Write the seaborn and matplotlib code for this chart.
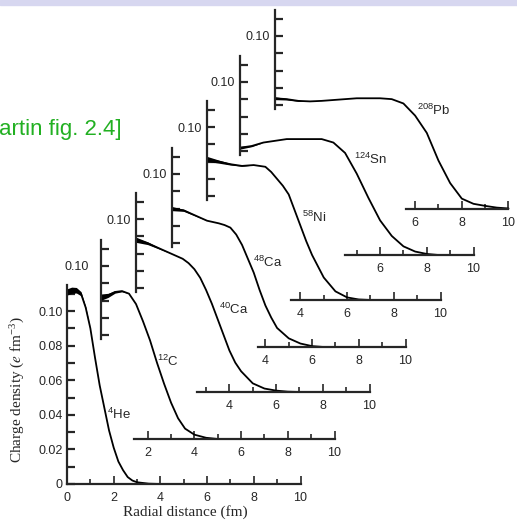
import numpy as np
import matplotlib
matplotlib.use('Agg')
import matplotlib.pyplot as plt
import seaborn as sns
from matplotlib.patches import Rectangle

sns.set_style('ticks')
plt.rcParams['font.family'] = ['Liberation Sans', 'DejaVu Sans']
plt.rcParams['mathtext.fontset'] = 'stix'
plt.rcParams['mathtext.default'] = 'regular'

# charge densities (e fm^-3)
labels = [r'$^{4}$He', r'$^{12}$C', r'$^{40}$Ca', r'$^{48}$Ca', r'$^{58}$Ni', r'$^{124}$Sn', r'$^{208}$Pb']

r_he = [0, 0.2, 0.4, 0.6, 0.8, 1.0, 1.2, 1.4, 1.6, 1.8, 2.0, 2.2, 2.4, 2.6, 2.8, 3.0, 3.5, 4.0]
rho_he = [0.111, 0.112, 0.112, 0.110, 0.102, 0.090, 0.073, 0.057, 0.044, 0.031, 0.021, 0.013, 0.008, 0.004, 0.002, 0.001, 0.0002, 0.0]
err_he = [0.0018, 0.0018, 0.0016, 0.0012, 0.0005, 0, 0, 0, 0, 0, 0, 0, 0, 0, 0, 0, 0, 0]

r_c = [0, 0.3, 0.6, 0.9, 1.2, 1.5, 1.8, 2.1, 2.4, 2.7, 3.0, 3.3, 3.6, 4.0, 4.5, 5.0]
rho_c = [0.082, 0.083, 0.085, 0.0855, 0.084, 0.078, 0.068, 0.057, 0.044, 0.032, 0.021, 0.012, 0.006, 0.0025, 0.0007, 0.0]
err_c = [0.0018, 0.0012, 0.0007, 0.0004, 0, 0, 0, 0, 0, 0, 0, 0, 0, 0, 0, 0]

r_ca40 = [0, 0.5, 1.0, 1.5, 2.0, 2.25, 2.5, 2.75, 3.0, 3.25, 3.5, 3.75, 4.0, 4.25, 4.5, 5.0, 5.5, 6.0, 6.5, 7.0]
rho_ca40 = [0.088, 0.086, 0.083, 0.080, 0.077, 0.0745, 0.071, 0.066, 0.059, 0.051, 0.042, 0.033, 0.024, 0.017, 0.012, 0.005, 0.002, 0.0008, 0.0002, 0.0]
err_ca40 = [0.0015, 0.0008, 0.0004, 0, 0, 0, 0, 0, 0, 0, 0, 0, 0, 0, 0, 0, 0, 0, 0, 0]

r_ca48 = [0, 0.5, 1.0, 1.5, 2.0, 2.25, 2.5, 2.75, 3.0, 3.25, 3.5, 3.75, 4.0, 4.25, 4.5, 5.0, 5.5, 6.0, 6.5]
rho_ca48 = [0.080, 0.079, 0.076, 0.073, 0.0715, 0.0705, 0.069, 0.065, 0.059, 0.051, 0.043, 0.033, 0.024, 0.017, 0.011, 0.005, 0.002, 0.0005, 0.0]
err_ca48 = [0.0012, 0.0006, 0.0003, 0, 0, 0, 0, 0, 0, 0, 0, 0, 0, 0, 0, 0, 0, 0, 0]

r_ni = [0, 0.5, 1.0, 1.5, 2.0, 2.5, 2.75, 3.0, 3.25, 3.5, 3.75, 4.0, 4.25, 4.5, 5.0, 5.5, 6.0, 6.5, 7.0]
rho_ni = [0.0815, 0.080, 0.0785, 0.0775, 0.078, 0.077, 0.074, 0.070, 0.066, 0.061, 0.052, 0.043, 0.034, 0.026, 0.013, 0.005, 0.0015, 0.0003, 0.0]
err_ni = [0.0015, 0.0009, 0.0005, 0.0002, 0, 0, 0, 0, 0, 0, 0, 0, 0, 0, 0, 0, 0, 0, 0]

r_sn = [0, 0.5, 1.0, 1.5, 2.0, 2.5, 3.0, 3.5, 4.0, 4.5, 5.0, 5.5, 6.0, 6.5, 7.0, 7.5, 8.0, 8.5]
rho_sn = [0.062, 0.063, 0.065, 0.066, 0.067, 0.067, 0.067, 0.067, 0.065, 0.059, 0.047, 0.033, 0.020, 0.011, 0.005, 0.002, 0.0006, 0.0]
err_sn = [0.0008, 0.0004, 0, 0, 0, 0, 0, 0, 0, 0, 0, 0, 0, 0, 0, 0, 0, 0]

r_pb = [0, 0.5, 1.0, 1.5, 2.0, 2.5, 3.0, 3.5, 4.0, 4.5, 5.0, 5.5, 6.0, 6.5, 7.0, 7.5, 8.0, 8.5, 9.0, 9.5, 10.0]
rho_pb = [0.064, 0.0635, 0.0625, 0.0622, 0.0625, 0.063, 0.0635, 0.064, 0.064, 0.064, 0.0635, 0.061, 0.054, 0.044, 0.028, 0.015, 0.006, 0.003, 0.0018, 0.0008, 0.0003]
err_pb = [0.0008, 0.0005, 0.0003, 0, 0, 0, 0, 0, 0, 0, 0, 0, 0, 0, 0, 0, 0, 0, 0, 0, 0]

curves = [(r_he, rho_he, err_he), (r_c, rho_c, err_c), (r_ca40, rho_ca40, err_ca40),
          (r_ca48, rho_ca48, err_ca48), (r_ni, rho_ni, err_ni), (r_sn, rho_sn, err_sn),
          (r_pb, rho_pb, err_pb)]

# where each isotope label sits (data coords of its own panel)
label_pos = [(1.7, 0.040), (2.4, 0.045), (3.55, 0.048), (3.45, 0.049), (4.05, 0.048), (4.9, 0.055), (6.1, 0.057)]
# where each staggered x axis line starts
x_start = [0, 1.4, 2.6, 3.7, 3.6, 4.5, 5.6]

# panel placement in pixels (origin of each panel)
W, H = 517, 524
x0_px = [67, 101, 136, 172, 207, 240, 275]
base_px = [484, 439, 392, 347, 300, 255, 209]
px_per_fm = 23.35
px_per_unit = 1730
ymax = 0.12

fig = plt.figure(figsize=(W / 100, H / 100), dpi=100)
fig.patches.append(Rectangle((0, 1 - 5 / H), 1, 5 / H, transform=fig.transFigure,
                             color='#d7d7f0', zorder=0))
fig.text(-0.002, 1 - 130 / H, 'artin fig. 2.4]', color='#22b022', fontsize=16,
         ha='left', va='center')

for i, (r, rho, err) in enumerate(curves):
    ax = fig.add_axes([x0_px[i] / W, (H - base_px[i]) / H,
                       10 * px_per_fm / W, ymax * px_per_unit / H])
    ax.patch.set_visible(False)
    r = np.array(r)
    rho = np.array(rho)
    err = np.array(err)
    ax.fill_between(r, rho - err, rho + err, color='black', lw=0, clip_on=False)
    sns.lineplot(x=r, y=rho, ax=ax, color='black', lw=1.3, clip_on=False)
    ax.set_xlim(0, 10)
    ax.set_ylim(0, ymax)
    ax.spines['top'].set_visible(False)
    ax.spines['right'].set_visible(False)
    for s in ['left', 'bottom']:
        ax.spines[s].set_linewidth(1.6)

    xt = [t for t in range(0, 11) if t >= x_start[i] - 0.01]
    ax.set_xticks([t for t in xt if t % 2 == 0])
    ax.set_xticks([t for t in xt if t % 2 == 1], minor=True)
    ax.spines['bottom'].set_bounds(x_start[i], 10)

    if i == 0:
        ax.set_yticks([0, 0.02, 0.04, 0.06, 0.08, 0.10])
        ax.set_yticklabels(['0', '0.02', '0.04', '0.06', '0.08', '0.10'])
        ax.set_yticks([0.01, 0.03, 0.05, 0.07, 0.09, 0.11], minor=True)
        ax.spines['left'].set_bounds(0, 0.115)
        ax.set_xticklabels(['0', '2', '4', '6', '8', '10'])
        ypad = 3
    else:
        ax.set_yticks([0.10])
        ax.set_yticklabels(['0.10'])
        ax.set_yticks([0.06, 0.07, 0.08, 0.09, 0.11], minor=True)
        ax.spines['left'].set_bounds(0.058, 0.115)
        ypad = 9 if i == 1 else 4

    ax.tick_params(axis='x', which='major', direction='in', length=6, width=1.2,
                   labelsize=9, pad=5.5)
    ax.tick_params(axis='x', which='minor', direction='in', length=3.5, width=1.2)
    ax.tick_params(axis='y', which='both', direction='in', length=5.5, width=1.6,
                   labelsize=9, pad=ypad)

    lx, ly = label_pos[i]
    ax.text(lx, ly, labels[i], fontsize=9.5, ha='left', va='center')

fig.text(185 / W, 1 - 512 / H, 'Radial distance (fm)', family='Liberation Serif',
         fontsize=11, ha='center', va='center')
fig.text(18 / W, 1 - 390 / H, r'Charge density ($\mathit{e}$ fm$^{-3}$)',
         family='Liberation Serif', fontsize=11, rotation=90, ha='center', va='center')

fig.savefig('out.png', dpi=100)
